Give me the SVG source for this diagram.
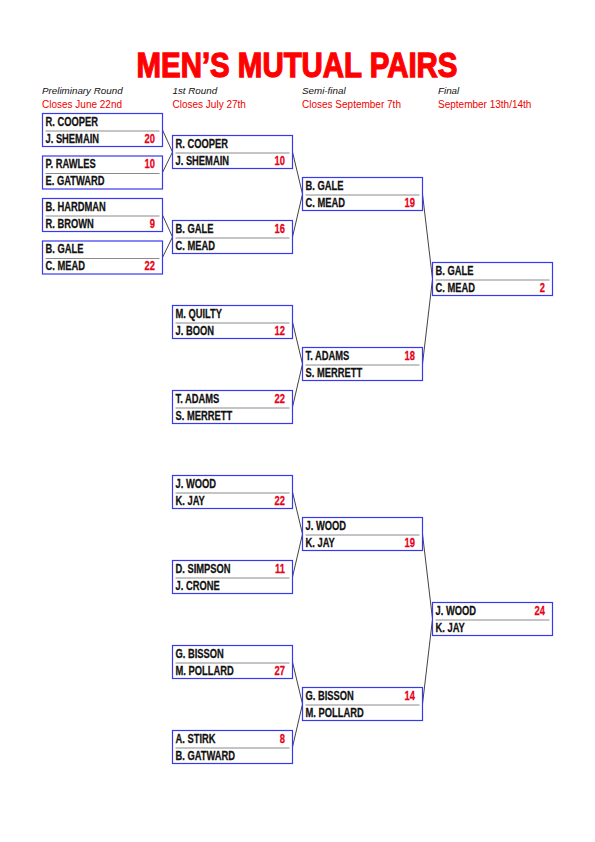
<svg xmlns="http://www.w3.org/2000/svg" width="595" height="842" viewBox="0 0 595 842">
<style>
.box{fill:#fff;stroke:#3838ee;stroke-width:1.2}
.sep{stroke:#8a8a8a;stroke-width:1}
.n{font-family:"Liberation Sans",Arial,sans-serif;font-weight:bold;font-size:12px;fill:#111;stroke:#111;stroke-width:0.25}
.s{font-family:"Liberation Sans",Arial,sans-serif;font-weight:bold;font-size:12px;fill:#e8001a;stroke:#e8001a;stroke-width:0.25;text-anchor:end}
.h{font-family:"Liberation Sans",Arial,sans-serif;font-style:italic;font-size:9.8px;fill:#111}
.c{font-family:"Liberation Sans",Arial,sans-serif;font-size:10px;fill:#f00000}
.conn line{stroke:#111;stroke-width:0.8}
</style>
<defs>
<g id="frame"><rect class="box" x="0" y="0" width="120" height="33"/><line class="sep" x1="3" y1="17.5" x2="117" y2="17.5"/></g>
</defs>
<rect width="595" height="842" fill="#fff"/>
<text x="297" y="77" text-anchor="middle" textLength="321" lengthAdjust="spacingAndGlyphs" font-family="'Liberation Sans',Arial,sans-serif" font-weight="bold" font-size="35.5" fill="#ff0000" stroke="#ff0000" stroke-width="1.3">MEN’S MUTUAL PAIRS</text>
<g id="headers">
<text class="h" x="42" y="93.5">Preliminary Round</text>
<text class="c" x="42" y="107.5">Closes June 22nd</text>
<text class="h" x="172.5" y="93.5">1st Round</text>
<text class="c" x="172.5" y="107.5">Closes July 27th</text>
<text class="h" x="302" y="93.5">Semi-final</text>
<text class="c" x="302" y="107.5">Closes September 7th</text>
<text class="h" x="438" y="93.5">Final</text>
<text class="c" x="438" y="107.5">September 13th/14th</text>
</g>
<g class="conn" id="connectors">
<line x1="162.5" y1="130" x2="172.5" y2="152"/>
<line x1="162.5" y1="172.5" x2="172.5" y2="152"/>
<line x1="162.5" y1="215" x2="172.5" y2="237"/>
<line x1="162.5" y1="257.5" x2="172.5" y2="237"/>
<line x1="292.5" y1="152" x2="302.5" y2="194"/>
<line x1="292.5" y1="237" x2="302.5" y2="194"/>
<line x1="292.5" y1="322" x2="302.5" y2="364"/>
<line x1="292.5" y1="407" x2="302.5" y2="364"/>
<line x1="292.5" y1="492" x2="302.5" y2="534"/>
<line x1="292.5" y1="577" x2="302.5" y2="534"/>
<line x1="292.5" y1="662" x2="302.5" y2="704"/>
<line x1="292.5" y1="747" x2="302.5" y2="704"/>
<line x1="422.5" y1="194" x2="432.5" y2="279"/>
<line x1="422.5" y1="364" x2="432.5" y2="279"/>
<line x1="422.5" y1="534" x2="432.5" y2="619"/>
<line x1="422.5" y1="704" x2="432.5" y2="619"/>
</g>
<g id="p1" transform="translate(42.5,113.5)"><use href="#frame"/><text class="n" transform="scale(0.78,1)" x="3.85" y="12.5">R. COOPER</text><text class="n" transform="scale(0.78,1)" x="3.85" y="29.5">J. SHEMAIN</text><text class="s" transform="scale(0.78,1)" x="144.2" y="29.5">20</text></g>
<g id="p2" transform="translate(42.5,156)"><use href="#frame"/><text class="n" transform="scale(0.78,1)" x="3.85" y="12.5">P. RAWLES</text><text class="s" transform="scale(0.78,1)" x="144.2" y="12.5">10</text><text class="n" transform="scale(0.78,1)" x="3.85" y="29.5">E. GATWARD</text></g>
<g id="p3" transform="translate(42.5,198.5)"><use href="#frame"/><text class="n" transform="scale(0.78,1)" x="3.85" y="12.5">B. HARDMAN</text><text class="n" transform="scale(0.78,1)" x="3.85" y="29.5">R. BROWN</text><text class="s" transform="scale(0.78,1)" x="144.2" y="29.5">9</text></g>
<g id="p4" transform="translate(42.5,241)"><use href="#frame"/><text class="n" transform="scale(0.78,1)" x="3.85" y="12.5">B. GALE</text><text class="n" transform="scale(0.78,1)" x="3.85" y="29.5">C. MEAD</text><text class="s" transform="scale(0.78,1)" x="144.2" y="29.5">22</text></g>
<g id="r1" transform="translate(172.5,135.5)"><use href="#frame"/><text class="n" transform="scale(0.78,1)" x="3.85" y="12.5">R. COOPER</text><text class="n" transform="scale(0.78,1)" x="3.85" y="29.5">J. SHEMAIN</text><text class="s" transform="scale(0.78,1)" x="144.2" y="29.5">10</text></g>
<g id="r2" transform="translate(172.5,220.5)"><use href="#frame"/><text class="n" transform="scale(0.78,1)" x="3.85" y="12.5">B. GALE</text><text class="s" transform="scale(0.78,1)" x="144.2" y="12.5">16</text><text class="n" transform="scale(0.78,1)" x="3.85" y="29.5">C. MEAD</text></g>
<g id="r3" transform="translate(172.5,305.5)"><use href="#frame"/><text class="n" transform="scale(0.78,1)" x="3.85" y="12.5">M. QUILTY</text><text class="n" transform="scale(0.78,1)" x="3.85" y="29.5">J. BOON</text><text class="s" transform="scale(0.78,1)" x="144.2" y="29.5">12</text></g>
<g id="r4" transform="translate(172.5,390.5)"><use href="#frame"/><text class="n" transform="scale(0.78,1)" x="3.85" y="12.5">T. ADAMS</text><text class="s" transform="scale(0.78,1)" x="144.2" y="12.5">22</text><text class="n" transform="scale(0.78,1)" x="3.85" y="29.5">S. MERRETT</text></g>
<g id="r5" transform="translate(172.5,475.5)"><use href="#frame"/><text class="n" transform="scale(0.78,1)" x="3.85" y="12.5">J. WOOD</text><text class="n" transform="scale(0.78,1)" x="3.85" y="29.5">K. JAY</text><text class="s" transform="scale(0.78,1)" x="144.2" y="29.5">22</text></g>
<g id="r6" transform="translate(172.5,560.5)"><use href="#frame"/><text class="n" transform="scale(0.78,1)" x="3.85" y="12.5">D. SIMPSON</text><text class="s" transform="scale(0.78,1)" x="144.2" y="12.5">11</text><text class="n" transform="scale(0.78,1)" x="3.85" y="29.5">J. CRONE</text></g>
<g id="r7" transform="translate(172.5,645.5)"><use href="#frame"/><text class="n" transform="scale(0.78,1)" x="3.85" y="12.5">G. BISSON</text><text class="n" transform="scale(0.78,1)" x="3.85" y="29.5">M. POLLARD</text><text class="s" transform="scale(0.78,1)" x="144.2" y="29.5">27</text></g>
<g id="r8" transform="translate(172.5,730.5)"><use href="#frame"/><text class="n" transform="scale(0.78,1)" x="3.85" y="12.5">A. STIRK</text><text class="s" transform="scale(0.78,1)" x="144.2" y="12.5">8</text><text class="n" transform="scale(0.78,1)" x="3.85" y="29.5">B. GATWARD</text></g>
<g id="s1" transform="translate(302.5,177.5)"><use href="#frame"/><text class="n" transform="scale(0.78,1)" x="3.85" y="12.5">B. GALE</text><text class="n" transform="scale(0.78,1)" x="3.85" y="29.5">C. MEAD</text><text class="s" transform="scale(0.78,1)" x="144.2" y="29.5">19</text></g>
<g id="s2" transform="translate(302.5,347.5)"><use href="#frame"/><text class="n" transform="scale(0.78,1)" x="3.85" y="12.5">T. ADAMS</text><text class="s" transform="scale(0.78,1)" x="144.2" y="12.5">18</text><text class="n" transform="scale(0.78,1)" x="3.85" y="29.5">S. MERRETT</text></g>
<g id="s3" transform="translate(302.5,517.5)"><use href="#frame"/><text class="n" transform="scale(0.78,1)" x="3.85" y="12.5">J. WOOD</text><text class="n" transform="scale(0.78,1)" x="3.85" y="29.5">K. JAY</text><text class="s" transform="scale(0.78,1)" x="144.2" y="29.5">19</text></g>
<g id="s4" transform="translate(302.5,687.5)"><use href="#frame"/><text class="n" transform="scale(0.78,1)" x="3.85" y="12.5">G. BISSON</text><text class="s" transform="scale(0.78,1)" x="144.2" y="12.5">14</text><text class="n" transform="scale(0.78,1)" x="3.85" y="29.5">M. POLLARD</text></g>
<g id="f1" transform="translate(432.5,262.5)"><use href="#frame"/><text class="n" transform="scale(0.78,1)" x="3.85" y="12.5">B. GALE</text><text class="n" transform="scale(0.78,1)" x="3.85" y="29.5">C. MEAD</text><text class="s" transform="scale(0.78,1)" x="144.2" y="29.5">2</text></g>
<g id="f2" transform="translate(432.5,602.5)"><use href="#frame"/><text class="n" transform="scale(0.78,1)" x="3.85" y="12.5">J. WOOD</text><text class="s" transform="scale(0.78,1)" x="144.2" y="12.5">24</text><text class="n" transform="scale(0.78,1)" x="3.85" y="29.5">K. JAY</text></g>
</svg>
